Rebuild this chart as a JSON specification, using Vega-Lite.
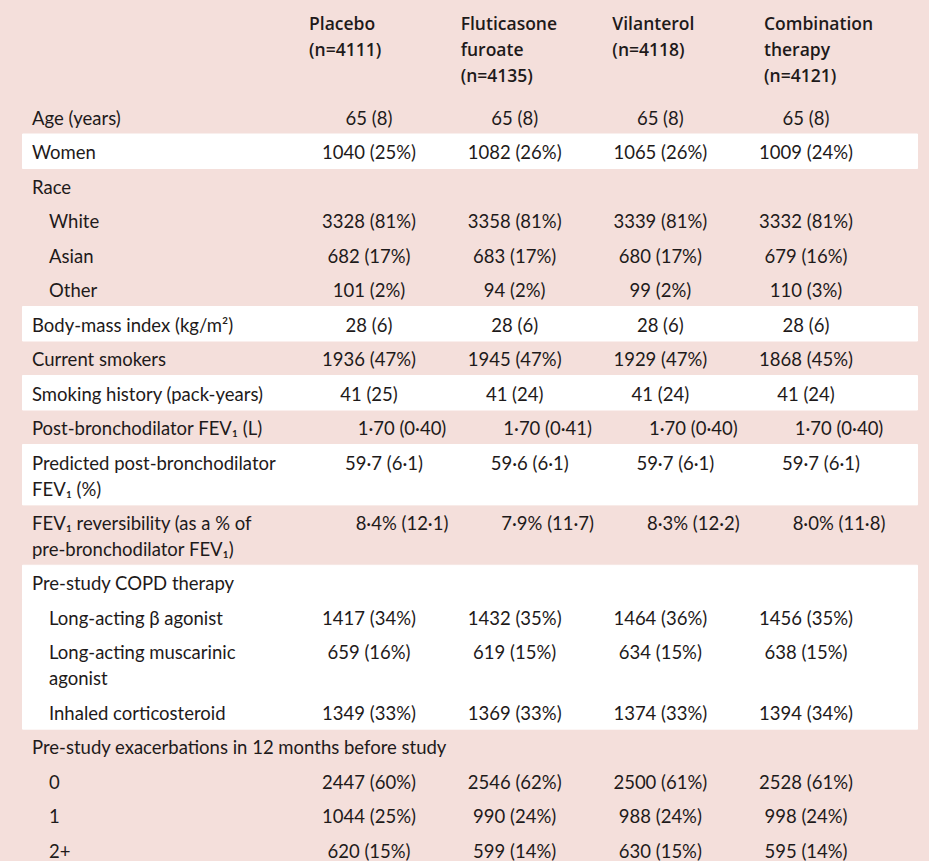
{
  "$schema": "https://vega.github.io/schema/vega-lite/v6.json",
  "width": 929,
  "height": 861,
  "padding": 0,
  "autosize": {"type": "none"},
  "background": "#f4dfdb",
  "config": {
    "view": {"stroke": null},
    "text": {"font": "Lato", "fontSize": 18.5, "color": "#1e1a1a", "baseline": "alphabetic"}
  },
  "datasets": {
    "rows": [
      {"row": 0, "label": "Age (years)", "level": 0, "lines": 1, "shade": "pink", "fmt": "std", "Placebo": "65 (8)", "Fluticasone": "65 (8)", "Vilanterol": "65 (8)", "Combination": "65 (8)"},
      {"row": 1, "label": "Women", "level": 0, "lines": 1, "shade": "white", "fmt": "std", "Placebo": "1040 (25%)", "Fluticasone": "1082 (26%)", "Vilanterol": "1065 (26%)", "Combination": "1009 (24%)"},
      {"row": 2, "label": "Race", "level": 0, "lines": 1, "shade": "pink", "fmt": "std", "Placebo": "", "Fluticasone": "", "Vilanterol": "", "Combination": ""},
      {"row": 3, "label": "White", "level": 1, "lines": 1, "shade": "pink", "fmt": "std", "Placebo": "3328 (81%)", "Fluticasone": "3358 (81%)", "Vilanterol": "3339 (81%)", "Combination": "3332 (81%)"},
      {"row": 4, "label": "Asian", "level": 1, "lines": 1, "shade": "pink", "fmt": "std", "Placebo": "682 (17%)", "Fluticasone": "683 (17%)", "Vilanterol": "680 (17%)", "Combination": "679 (16%)"},
      {"row": 5, "label": "Other", "level": 1, "lines": 1, "shade": "pink", "fmt": "std", "Placebo": "101 (2%)", "Fluticasone": "94 (2%)", "Vilanterol": "99 (2%)", "Combination": "110 (3%)"},
      {"row": 6, "label": "Body-mass index (kg/m²)", "level": 0, "lines": 1, "shade": "white", "fmt": "std", "Placebo": "28 (6)", "Fluticasone": "28 (6)", "Vilanterol": "28 (6)", "Combination": "28 (6)"},
      {"row": 7, "label": "Current smokers", "level": 0, "lines": 1, "shade": "pink", "fmt": "std", "Placebo": "1936 (47%)", "Fluticasone": "1945 (47%)", "Vilanterol": "1929 (47%)", "Combination": "1868 (45%)"},
      {"row": 8, "label": "Smoking history (pack-years)", "level": 0, "lines": 1, "shade": "white", "fmt": "std", "Placebo": "41 (25)", "Fluticasone": "41 (24)", "Vilanterol": "41 (24)", "Combination": "41 (24)"},
      {"row": 9, "label": "Post-bronchodilator FEV₁ (L)", "level": 0, "lines": 1, "shade": "pink", "fmt": "fev", "Placebo": "1·70 (0·40)", "Fluticasone": "1·70 (0·41)", "Vilanterol": "1·70 (0·40)", "Combination": "1·70 (0·40)"},
      {"row": 10, "label": "Predicted post-bronchodilator\nFEV₁ (%)", "level": 0, "lines": 2, "shade": "white", "fmt": "pred", "Placebo": "59·7 (6·1)", "Fluticasone": "59·6 (6·1)", "Vilanterol": "59·7 (6·1)", "Combination": "59·7 (6·1)"},
      {"row": 11, "label": "FEV₁ reversibility (as a % of\npre-bronchodilator FEV₁)", "level": 0, "lines": 2, "shade": "pink", "fmt": "fev", "Placebo": "8·4% (12·1)", "Fluticasone": "7·9% (11·7)", "Vilanterol": "8·3% (12·2)", "Combination": "8·0% (11·8)"},
      {"row": 12, "label": "Pre-study COPD therapy", "level": 0, "lines": 1, "shade": "white", "fmt": "std", "Placebo": "", "Fluticasone": "", "Vilanterol": "", "Combination": ""},
      {"row": 13, "label": "Long-acting β agonist", "level": 1, "lines": 1, "shade": "white", "fmt": "std", "Placebo": "1417 (34%)", "Fluticasone": "1432 (35%)", "Vilanterol": "1464 (36%)", "Combination": "1456 (35%)"},
      {"row": 14, "label": "Long-acting muscarinic\nagonist", "level": 1, "lines": 2, "shade": "white", "fmt": "std", "Placebo": "659 (16%)", "Fluticasone": "619 (15%)", "Vilanterol": "634 (15%)", "Combination": "638 (15%)"},
      {"row": 15, "label": "Inhaled corticosteroid", "level": 1, "lines": 1, "shade": "white", "fmt": "std", "Placebo": "1349 (33%)", "Fluticasone": "1369 (33%)", "Vilanterol": "1374 (33%)", "Combination": "1394 (34%)"},
      {"row": 16, "label": "Pre-study exacerbations in 12 months before study", "level": 0, "lines": 1, "shade": "pink", "fmt": "std", "Placebo": "", "Fluticasone": "", "Vilanterol": "", "Combination": ""},
      {"row": 17, "label": "0", "level": 1, "lines": 1, "shade": "pink", "fmt": "std", "Placebo": "2447 (60%)", "Fluticasone": "2546 (62%)", "Vilanterol": "2500 (61%)", "Combination": "2528 (61%)"},
      {"row": 18, "label": "1", "level": 1, "lines": 1, "shade": "pink", "fmt": "std", "Placebo": "1044 (25%)", "Fluticasone": "990 (24%)", "Vilanterol": "988 (24%)", "Combination": "998 (24%)"},
      {"row": 19, "label": "2+", "level": 1, "lines": 1, "shade": "pink", "fmt": "std", "Placebo": "620 (15%)", "Fluticasone": "599 (14%)", "Vilanterol": "630 (15%)", "Combination": "595 (14%)"}
    ],
    "heads": [
      {"arm": "Placebo", "head": "Placebo\n(n=4111)"},
      {"arm": "Fluticasone", "head": "Fluticasone\nfuroate\n(n=4135)"},
      {"arm": "Vilanterol", "head": "Vilanterol\n(n=4118)"},
      {"arm": "Combination", "head": "Combination\ntherapy\n(n=4121)"}
    ]
  },
  "layer": [
    {
      "data": {"name": "rows"},
      "transform": [
        {"calculate": "1 + 0.75 * (datum.lines - 1)", "as": "h"},
        {"window": [{"op": "sum", "field": "h", "as": "cum"}], "sort": [{"field": "row"}], "frame": [null, 0]},
        {"calculate": "datum.cum - datum.h", "as": "top"},
        {"calculate": "datum.top + 0.725", "as": "ty"}
      ],
      "layer": [
        {
          "transform": [{"filter": "datum.shade === 'white'"}],
          "mark": {"type": "rect", "color": "#ffffff", "stroke": "#ffffff", "strokeWidth": 1},
          "encoding": {
            "x": {"value": 22.5},
            "x2": {"value": 917.5},
            "y": {"field": "top", "type": "quantitative", "axis": null, "scale": {"domain": [-2.8841, 22.0724], "reverse": true, "nice": false, "zero": false}},
            "y2": {"field": "cum"}
          }
        },
        {
          "mark": {"type": "text", "align": "left", "lineBreak": "\n", "lineHeight": 26},
          "encoding": {
            "x": {"field": "level", "type": "ordinal", "axis": null, "scale": {"type": "point", "domain": [0, 1], "range": [32, 49], "padding": 0}},
            "y": {"field": "ty", "type": "quantitative", "axis": null, "scale": {"domain": [-2.8841, 22.0724], "reverse": true, "nice": false, "zero": false}},
            "text": {"field": "label", "type": "nominal"}
          }
        },
        {
          "transform": [{"fold": ["Placebo", "Fluticasone", "Vilanterol", "Combination"], "as": ["arm", "value"]}],
          "layer": [
            {
              "transform": [{"filter": "datum.fmt === 'std'"}],
              "mark": {"type": "text", "align": "center"},
              "encoding": {
                "x": {"field": "arm", "type": "nominal", "axis": null, "scale": {"type": "point", "domain": ["Placebo", "Fluticasone", "Vilanterol", "Combination"], "range": [369, 806], "padding": 0}},
                "y": {"field": "ty", "type": "quantitative", "axis": null, "scale": {"domain": [-2.8841, 22.0724], "reverse": true, "nice": false, "zero": false}},
                "text": {"field": "value", "type": "nominal"}
              }
            },
            {
              "transform": [{"filter": "datum.fmt === 'fev'"}],
              "mark": {"type": "text", "align": "center", "dx": 33},
              "encoding": {
                "x": {"field": "arm", "type": "nominal", "axis": null, "scale": {"type": "point", "domain": ["Placebo", "Fluticasone", "Vilanterol", "Combination"], "range": [369, 806], "padding": 0}},
                "y": {"field": "ty", "type": "quantitative", "axis": null, "scale": {"domain": [-2.8841, 22.0724], "reverse": true, "nice": false, "zero": false}},
                "text": {"field": "value", "type": "nominal"}
              }
            },
            {
              "transform": [{"filter": "datum.fmt === 'pred'"}],
              "mark": {"type": "text", "align": "center", "dx": 15},
              "encoding": {
                "x": {"field": "arm", "type": "nominal", "axis": null, "scale": {"type": "point", "domain": ["Placebo", "Fluticasone", "Vilanterol", "Combination"], "range": [369, 806], "padding": 0}},
                "y": {"field": "ty", "type": "quantitative", "axis": null, "scale": {"domain": [-2.8841, 22.0724], "reverse": true, "nice": false, "zero": false}},
                "text": {"field": "value", "type": "nominal"}
              }
            }
          ],
          "resolve": {"scale": {"x": "shared"}}
        }
      ],
      "resolve": {"scale": {"x": "independent"}}
    },
    {
      "mark": {"type": "rule", "color": "#a8184a", "strokeWidth": 1.2},
      "encoding": {"x": {"value": 4}, "y": {"value": 0}, "y2": {"value": 861}}
    },
    {
      "mark": {"type": "rule", "color": "#1e1a1a", "strokeWidth": 1.3},
      "encoding": {"x": {"value": 22}, "x2": {"value": 918}, "y": {"value": 97}}
    },
    {
      "data": {"name": "heads"},
      "mark": {"type": "text", "align": "left", "font": "Open Sans", "fontSize": 17.5, "fontWeight": 600, "lineBreak": "\n", "lineHeight": 26},
      "encoding": {
        "x": {"field": "arm", "type": "nominal", "axis": null, "scale": {"type": "point", "domain": ["Placebo", "Fluticasone", "Vilanterol", "Combination"], "range": [309, 764], "padding": 0}},
        "y": {"datum": -2.014, "type": "quantitative", "axis": null, "scale": {"domain": [-2.8841, 22.0724], "reverse": true, "nice": false, "zero": false}},
        "text": {"field": "head", "type": "nominal"}
      }
    }
  ],
  "resolve": {"scale": {"x": "independent"}}
}
